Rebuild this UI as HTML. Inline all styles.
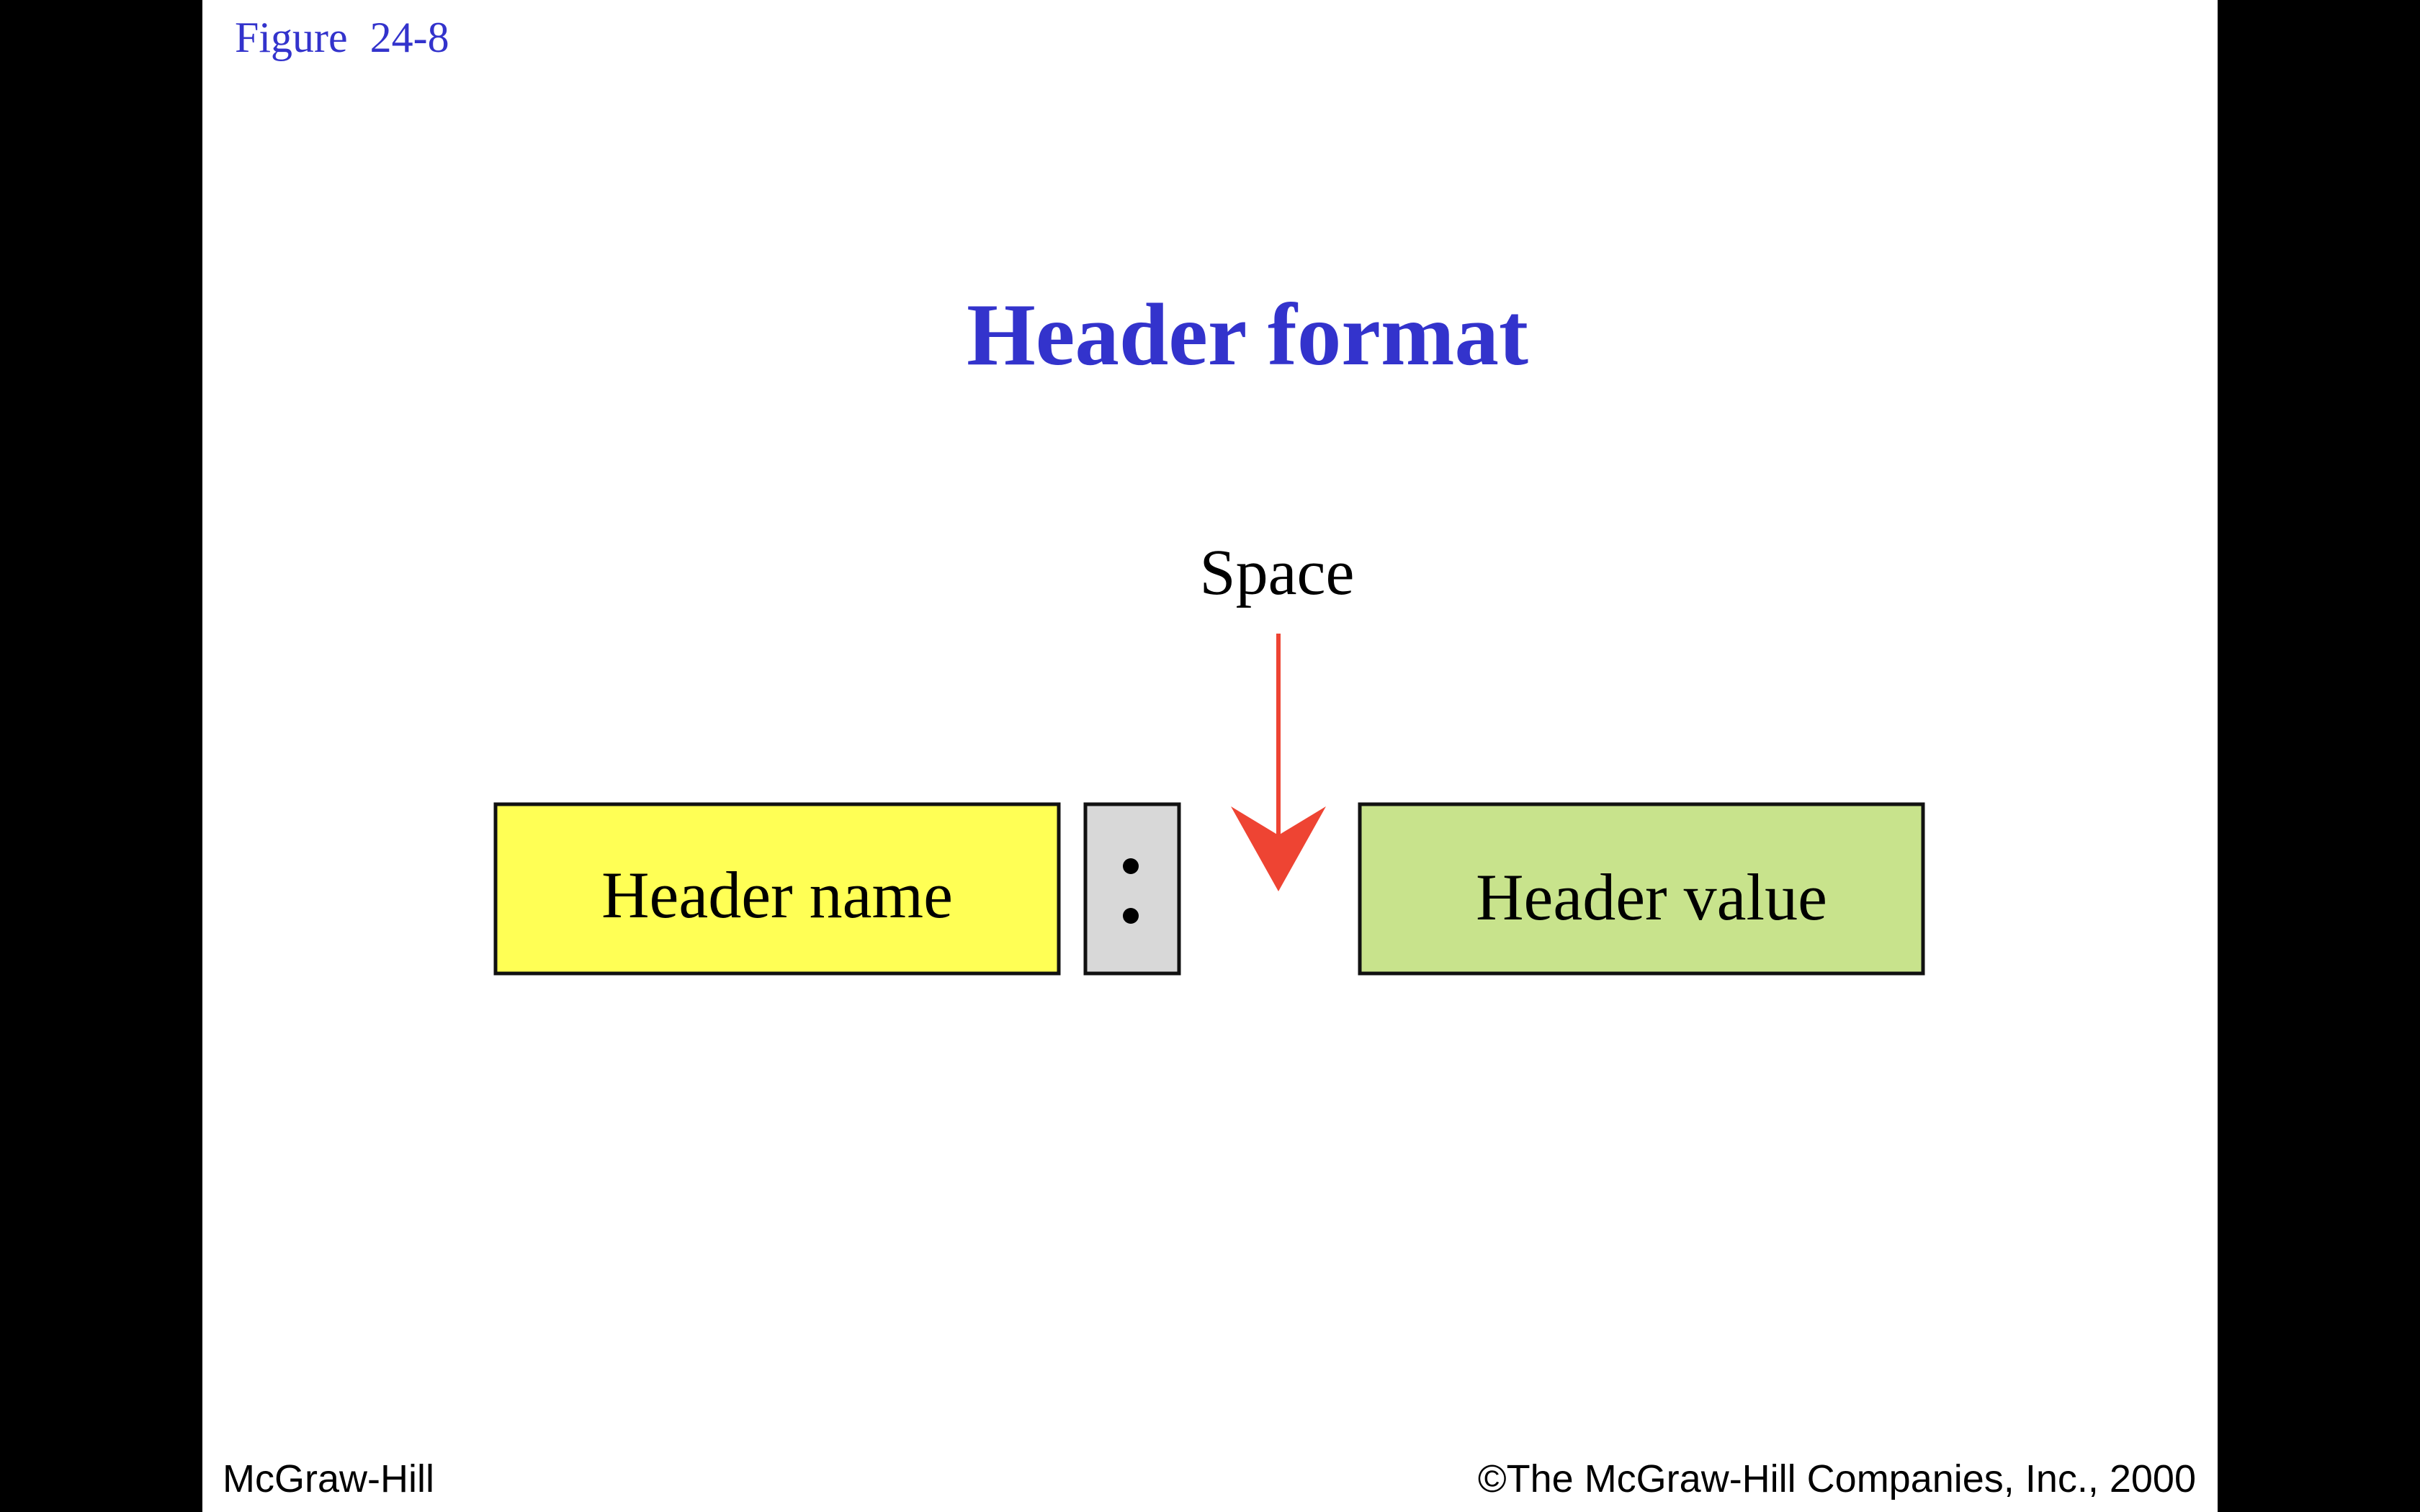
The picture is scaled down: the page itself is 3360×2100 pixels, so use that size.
<!DOCTYPE html>
<html><head><meta charset="utf-8"><style>
html,body{margin:0;padding:0;background:#000;}
svg{display:block;}
</style></head><body>
<svg width="3360" height="2100" viewBox="0 0 3360 2100" xmlns="http://www.w3.org/2000/svg">
<rect x="0" y="0" width="3360" height="2100" fill="#000"/>
<rect x="281" y="0" width="2798" height="2100" fill="#fff"/>
<text x="326" y="72" font-family="Liberation Serif, serif" font-size="60" word-spacing="16" fill="#3333cc">Figure 24-8</text>
<text x="1732" y="506" text-anchor="middle" font-family="Liberation Serif, serif" font-weight="bold" font-size="123" fill="#3333cc">Header format</text>
<text x="1773" y="825" text-anchor="middle" font-family="Liberation Serif, serif" font-size="90" fill="#000">Space</text>
<line x1="1775" y1="880" x2="1775" y2="1170" stroke="#ee4433" stroke-width="6"/>
<path d="M1709 1120 L1775 1238 L1841 1120 L1775 1160 Z" fill="#ee4433"/>
<rect x="688" y="1117" width="782" height="235" fill="#ffff55" stroke="#111" stroke-width="5"/>
<text x="1079" y="1274" text-anchor="middle" font-family="Liberation Serif, serif" font-size="92" fill="#000">Header name</text>
<rect x="1507" y="1117" width="130" height="235" fill="#d8d8d8" stroke="#111" stroke-width="5"/>
<circle cx="1570" cy="1203" r="11" fill="#000"/>
<circle cx="1570" cy="1272" r="11" fill="#000"/>
<rect x="1888" y="1117" width="782" height="235" fill="#c8e38c" stroke="#111" stroke-width="5"/>
<text x="2293" y="1277" text-anchor="middle" font-family="Liberation Serif, serif" font-size="92" fill="#000">Header value</text>
<text x="309" y="2072" font-family="Liberation Sans, sans-serif" font-size="54" fill="#000">McGraw-Hill</text>
<text x="3049" y="2072" text-anchor="end" font-family="Liberation Sans, sans-serif" font-size="54" fill="#000">©The McGraw-Hill Companies, Inc., 2000</text>
</svg>
</body></html>
